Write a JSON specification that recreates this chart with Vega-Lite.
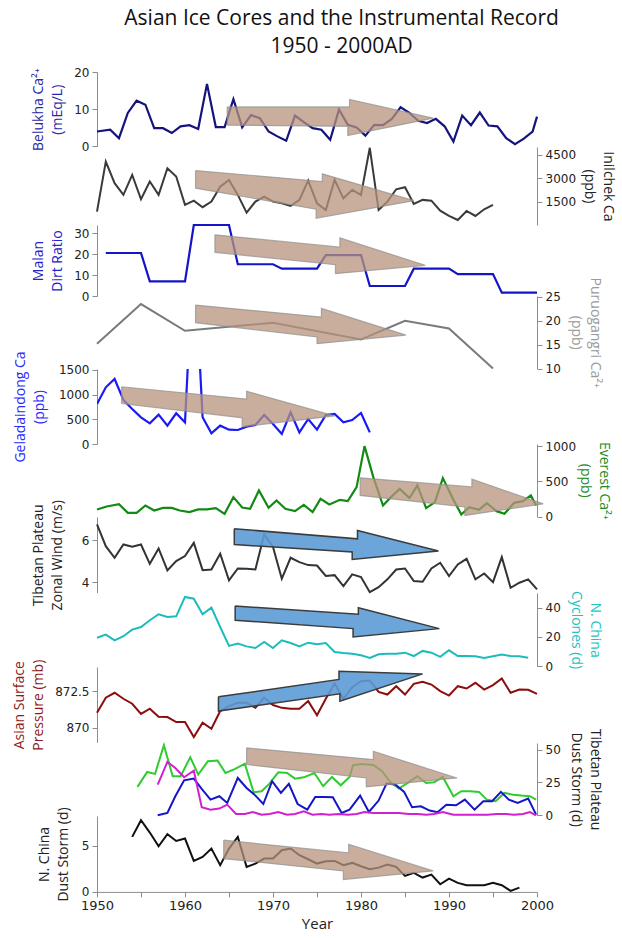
{
  "$schema": "https://vega.github.io/schema/vega-lite/v6.json",
  "padding": {"left": 12, "top": 8, "right": 4, "bottom": 5},
  "title": {"text": ["Asian Ice Cores and the Instrumental Record", "1950 - 2000AD"], "font": "Open Sans", "fontSize": 21, "fontWeight": "normal", "color": "#111111", "anchor": "middle", "offset": 9, "lineHeight": 28, "dx": 28},
  "spacing": 0,
  "bounds": "flush",
  "config": {
    "view": {"stroke": null},
    "axis": {"domainColor": "#8c8c8c", "tickColor": "#8c8c8c", "tickSize": 5, "labelColor": "#222222", "labelFont": "DejaVu Sans", "labelFontSize": 12, "labelPadding": 3, "titleFont": "Open Sans", "titleFontSize": 14, "titleLineHeight": 19, "titleFontWeight": "normal", "grid": false, "labelFlush": false, "labelOverlap": false}
  },
  "datasets": {
    "belukha": [
      {"year": 1950, "v": 4.0}, {"year": 1951.5, "v": 4.5}, {"year": 1952.5, "v": 2.2}, {"year": 1953.5, "v": 9.0}, {"year": 1954.5, "v": 12.3}, {"year": 1955.5, "v": 11.2}, {"year": 1956.5, "v": 4.9}, {"year": 1957.5, "v": 4.9}, {"year": 1958.5, "v": 3.6}, {"year": 1959.5, "v": 5.4}, {"year": 1960.5, "v": 5.7}, {"year": 1961.5, "v": 4.7}, {"year": 1962.5, "v": 16.8}, {"year": 1963.5, "v": 5.2}, {"year": 1964.5, "v": 5.2}, {"year": 1965.5, "v": 12.7}, {"year": 1966.5, "v": 5.1}, {"year": 1967.5, "v": 8.4}, {"year": 1968.5, "v": 7.6}, {"year": 1969.5, "v": 4.0}, {"year": 1970.5, "v": 2.7}, {"year": 1971.5, "v": 1.5}, {"year": 1972.5, "v": 8.3}, {"year": 1973.5, "v": 6.5}, {"year": 1974.5, "v": 4.9}, {"year": 1975.5, "v": 4.5}, {"year": 1976.5, "v": 1.8}, {"year": 1977.5, "v": 9.9}, {"year": 1978.5, "v": 5.8}, {"year": 1979.5, "v": 5.1}, {"year": 1980.5, "v": 2.9}, {"year": 1981.5, "v": 5.8}, {"year": 1982.5, "v": 5.7}, {"year": 1983.5, "v": 7.4}, {"year": 1984.5, "v": 10.5}, {"year": 1985.5, "v": 9.0}, {"year": 1986.5, "v": 6.9}, {"year": 1987.5, "v": 6.3}, {"year": 1988.5, "v": 7.4}, {"year": 1989.5, "v": 5.4}, {"year": 1990.5, "v": 1.3}, {"year": 1991.5, "v": 8.3}, {"year": 1992.5, "v": 5.7}, {"year": 1993.5, "v": 9.1}, {"year": 1994.5, "v": 5.6}, {"year": 1995.5, "v": 5.4}, {"year": 1996.5, "v": 2.2}, {"year": 1997.5, "v": 0.6}, {"year": 1998.5, "v": 2.1}, {"year": 1999.5, "v": 4.0}, {"year": 2000, "v": 8.0}
    ],
    "inilchek": [
      {"year": 1950, "v": 860}, {"year": 1951, "v": 4070}, {"year": 1952, "v": 2680}, {"year": 1953, "v": 1930}, {"year": 1954, "v": 3210}, {"year": 1955, "v": 1650}, {"year": 1956, "v": 2790}, {"year": 1957, "v": 1930}, {"year": 1958, "v": 3640}, {"year": 1959, "v": 3110}, {"year": 1960, "v": 1290}, {"year": 1961, "v": 1560}, {"year": 1962, "v": 1140}, {"year": 1963, "v": 1500}, {"year": 1964, "v": 2460}, {"year": 1965, "v": 2890}, {"year": 1966, "v": 1930}, {"year": 1967, "v": 790}, {"year": 1968, "v": 1500}, {"year": 1969, "v": 1820}, {"year": 1970, "v": 1500}, {"year": 1971, "v": 1390}, {"year": 1972, "v": 1220}, {"year": 1973, "v": 1610}, {"year": 1974, "v": 2850}, {"year": 1975, "v": 1390}, {"year": 1976, "v": 960}, {"year": 1977, "v": 2890}, {"year": 1978, "v": 1710}, {"year": 1979, "v": 2250}, {"year": 1980, "v": 1930}, {"year": 1981, "v": 4950}, {"year": 1982, "v": 960}, {"year": 1983, "v": 1500}, {"year": 1984, "v": 2290}, {"year": 1985, "v": 2420}, {"year": 1986, "v": 1350}, {"year": 1987, "v": 1610}, {"year": 1988, "v": 1560}, {"year": 1989, "v": 920}, {"year": 1990, "v": 580}, {"year": 1991, "v": 320}, {"year": 1992, "v": 900}, {"year": 1993, "v": 580}, {"year": 1994, "v": 1010}, {"year": 1995, "v": 1290}
    ],
    "malan": [
      {"year": 1951, "v": 20.6}, {"year": 1952, "v": 20.6}, {"year": 1953, "v": 20.6}, {"year": 1954, "v": 20.6}, {"year": 1955, "v": 20.6},
      {"year": 1956, "v": 7.0}, {"year": 1957, "v": 7.0}, {"year": 1958, "v": 7.0}, {"year": 1959, "v": 7.0}, {"year": 1960, "v": 7.0},
      {"year": 1961, "v": 34}, {"year": 1962, "v": 34}, {"year": 1963, "v": 34}, {"year": 1964, "v": 34}, {"year": 1965, "v": 34},
      {"year": 1966, "v": 15.2}, {"year": 1967, "v": 15.2}, {"year": 1968, "v": 15.2}, {"year": 1969, "v": 15.2}, {"year": 1970, "v": 15.2},
      {"year": 1971, "v": 13.1}, {"year": 1972, "v": 13.1}, {"year": 1973, "v": 13.1}, {"year": 1974, "v": 13.1}, {"year": 1975, "v": 13.1},
      {"year": 1976, "v": 19.6}, {"year": 1977, "v": 19.6}, {"year": 1978, "v": 19.6}, {"year": 1979, "v": 19.6}, {"year": 1980, "v": 19.6},
      {"year": 1981, "v": 4.8}, {"year": 1982, "v": 4.8}, {"year": 1983, "v": 4.8}, {"year": 1984, "v": 4.8}, {"year": 1985, "v": 4.8},
      {"year": 1986, "v": 13.1}, {"year": 1987, "v": 13.1}, {"year": 1988, "v": 13.1}, {"year": 1989, "v": 13.1}, {"year": 1990, "v": 13.1},
      {"year": 1991, "v": 10.5}, {"year": 1992, "v": 10.5}, {"year": 1993, "v": 10.5}, {"year": 1994, "v": 10.5}, {"year": 1995, "v": 10.5},
      {"year": 1996, "v": 1.6}, {"year": 1997, "v": 1.6}, {"year": 1998, "v": 1.6}, {"year": 1999, "v": 1.6}, {"year": 2000, "v": 1.6}
    ],
    "puru": [
      {"year": 1950, "v": 15.2}, {"year": 1955, "v": 23.5}, {"year": 1960, "v": 17.9}, {"year": 1970, "v": 19.6}, {"year": 1980, "v": 16.1}, {"year": 1985, "v": 20.0}, {"year": 1990, "v": 18.4}, {"year": 1995, "v": 10.0}
    ],
    "gela": [
      {"year": 1950, "v": 811}, {"year": 1951, "v": 1149}, {"year": 1952, "v": 1318}, {"year": 1953, "v": 892}, {"year": 1954, "v": 709}, {"year": 1955, "v": 541}, {"year": 1956, "v": 419}, {"year": 1957, "v": 595}, {"year": 1958, "v": 372}, {"year": 1959, "v": 622}, {"year": 1960, "v": 439}, {"year": 1961, "v": 4000}, {"year": 1962, "v": 541}, {"year": 1963, "v": 216}, {"year": 1964, "v": 372}, {"year": 1965, "v": 291}, {"year": 1966, "v": 284}, {"year": 1967, "v": 351}, {"year": 1968, "v": 385}, {"year": 1969, "v": 588}, {"year": 1970, "v": 405}, {"year": 1971, "v": 203}, {"year": 1972, "v": 642}, {"year": 1973, "v": 236}, {"year": 1974, "v": 507}, {"year": 1975, "v": 291}, {"year": 1976, "v": 588}, {"year": 1977, "v": 608}, {"year": 1978, "v": 439}, {"year": 1979, "v": 486}, {"year": 1980, "v": 628}, {"year": 1981, "v": 236}
    ],
    "everest": [
      {"year": 1950.0, "v": 100}, {"year": 1951.1, "v": 142}, {"year": 1952.5, "v": 175}, {"year": 1953.5, "v": 52}, {"year": 1954.5, "v": 52}, {"year": 1955.5, "v": 156}, {"year": 1956.5, "v": 85}, {"year": 1957.5, "v": 123}, {"year": 1958.5, "v": 123}, {"year": 1959.4, "v": 85}, {"year": 1960.5, "v": 62}, {"year": 1961.5, "v": 100}, {"year": 1962.5, "v": 100}, {"year": 1963.5, "v": 119}, {"year": 1964.5, "v": 38}, {"year": 1965.5, "v": 275}, {"year": 1966.5, "v": 128}, {"year": 1967.4, "v": 109}, {"year": 1968.4, "v": 370}, {"year": 1969.5, "v": 123}, {"year": 1970.4, "v": 228}, {"year": 1971.4, "v": 109}, {"year": 1972.5, "v": 76}, {"year": 1973.5, "v": 166}, {"year": 1974.5, "v": 62}, {"year": 1975.4, "v": 251}, {"year": 1976.4, "v": 171}, {"year": 1977.6, "v": 237}, {"year": 1978.5, "v": 218}, {"year": 1979.5, "v": 417}, {"year": 1980.4, "v": 1000}, {"year": 1981.4, "v": 559}, {"year": 1982.5, "v": 156}, {"year": 1983.4, "v": 275}, {"year": 1984.4, "v": 393}, {"year": 1985.5, "v": 261}, {"year": 1986.4, "v": 441}, {"year": 1987.4, "v": 119}, {"year": 1988.4, "v": 204}, {"year": 1989.3, "v": 545}, {"year": 1990.5, "v": 237}, {"year": 1991.4, "v": 28}, {"year": 1992.3, "v": 133}, {"year": 1993.4, "v": 95}, {"year": 1994.3, "v": 190}, {"year": 1995.4, "v": 76}, {"year": 1996.3, "v": 38}, {"year": 1997.4, "v": 194}, {"year": 1998.4, "v": 218}, {"year": 1999.3, "v": 299}, {"year": 1999.9, "v": 156}
    ],
    "wind": [
      {"year": 1950, "v": 6.75}, {"year": 1951, "v": 5.71}, {"year": 1952, "v": 5.16}, {"year": 1953, "v": 5.79}, {"year": 1954, "v": 5.68}, {"year": 1955, "v": 5.79}, {"year": 1956, "v": 4.87}, {"year": 1957, "v": 5.6}, {"year": 1958, "v": 4.56}, {"year": 1959, "v": 5.0}, {"year": 1960, "v": 5.24}, {"year": 1961, "v": 5.87}, {"year": 1962, "v": 4.57}, {"year": 1963, "v": 4.6}, {"year": 1964, "v": 5.35}, {"year": 1965, "v": 4.08}, {"year": 1966, "v": 4.65}, {"year": 1967, "v": 4.63}, {"year": 1968, "v": 4.6}, {"year": 1969, "v": 6.27}, {"year": 1970, "v": 5.67}, {"year": 1971, "v": 4.16}, {"year": 1972, "v": 5.16}, {"year": 1973, "v": 4.95}, {"year": 1974, "v": 4.81}, {"year": 1975, "v": 4.79}, {"year": 1976, "v": 4.29}, {"year": 1977, "v": 4.33}, {"year": 1978, "v": 3.81}, {"year": 1979, "v": 4.37}, {"year": 1980, "v": 4.24}, {"year": 1981, "v": 3.52}, {"year": 1982, "v": 3.76}, {"year": 1983, "v": 4.13}, {"year": 1984, "v": 4.6}, {"year": 1985, "v": 4.65}, {"year": 1986, "v": 4.05}, {"year": 1987, "v": 4.02}, {"year": 1988, "v": 4.65}, {"year": 1989, "v": 4.92}, {"year": 1990, "v": 4.29}, {"year": 1991, "v": 4.84}, {"year": 1992, "v": 5.11}, {"year": 1993, "v": 4.13}, {"year": 1994, "v": 4.41}, {"year": 1995, "v": 4.0}, {"year": 1996, "v": 5.19}, {"year": 1997, "v": 3.73}, {"year": 1998, "v": 3.97}, {"year": 1999, "v": 4.13}, {"year": 2000, "v": 3.65}
    ],
    "cyclones": [
      {"year": 1950, "v": 19.5}, {"year": 1951, "v": 21.6}, {"year": 1952, "v": 17.7}, {"year": 1953, "v": 20.5}, {"year": 1954, "v": 25.0}, {"year": 1955, "v": 26.8}, {"year": 1956, "v": 31.4}, {"year": 1957, "v": 35.5}, {"year": 1958, "v": 33.6}, {"year": 1959, "v": 34.1}, {"year": 1960, "v": 47.3}, {"year": 1961, "v": 46.1}, {"year": 1962, "v": 35.5}, {"year": 1963, "v": 40.0}, {"year": 1964, "v": 26.8}, {"year": 1965, "v": 13.9}, {"year": 1966, "v": 15.5}, {"year": 1967, "v": 13.6}, {"year": 1968, "v": 12.5}, {"year": 1969, "v": 16.6}, {"year": 1970, "v": 12.5}, {"year": 1971, "v": 17.7}, {"year": 1972, "v": 15.9}, {"year": 1973, "v": 13.6}, {"year": 1974, "v": 16.1}, {"year": 1975, "v": 15.0}, {"year": 1976, "v": 15.9}, {"year": 1977, "v": 9.8}, {"year": 1978, "v": 9.1}, {"year": 1979, "v": 8.6}, {"year": 1980, "v": 7.5}, {"year": 1981, "v": 5.7}, {"year": 1982, "v": 8.2}, {"year": 1983, "v": 8.6}, {"year": 1984, "v": 8.6}, {"year": 1985, "v": 9.3}, {"year": 1986, "v": 7.0}, {"year": 1987, "v": 10.5}, {"year": 1988, "v": 9.3}, {"year": 1989, "v": 6.4}, {"year": 1990, "v": 10.9}, {"year": 1991, "v": 7.0}, {"year": 1992, "v": 7.0}, {"year": 1993, "v": 6.8}, {"year": 1994, "v": 5.7}, {"year": 1995, "v": 6.8}, {"year": 1996, "v": 8.0}, {"year": 1997, "v": 7.0}, {"year": 1998, "v": 6.8}, {"year": 1999, "v": 5.9}
    ],
    "pressure": [
      {"year": 1950, "v": 871.02}, {"year": 1951, "v": 872.05}, {"year": 1952, "v": 872.39}, {"year": 1953, "v": 871.98}, {"year": 1954, "v": 871.64}, {"year": 1955, "v": 870.95}, {"year": 1956, "v": 871.3}, {"year": 1957, "v": 870.75}, {"year": 1958, "v": 870.73}, {"year": 1959, "v": 870.39}, {"year": 1960, "v": 870.39}, {"year": 1961, "v": 869.36}, {"year": 1962, "v": 870.34}, {"year": 1963, "v": 869.93}, {"year": 1964, "v": 871.14}, {"year": 1965, "v": 871.48}, {"year": 1966, "v": 871.7}, {"year": 1967, "v": 871.7}, {"year": 1968, "v": 871.36}, {"year": 1969, "v": 872.05}, {"year": 1970, "v": 871.55}, {"year": 1971, "v": 871.36}, {"year": 1972, "v": 871.3}, {"year": 1973, "v": 871.3}, {"year": 1974, "v": 871.82}, {"year": 1975, "v": 870.86}, {"year": 1976, "v": 871.98}, {"year": 1977, "v": 873.02}, {"year": 1978, "v": 871.98}, {"year": 1979, "v": 872.77}, {"year": 1980, "v": 873.18}, {"year": 1981, "v": 873.23}, {"year": 1982, "v": 872.45}, {"year": 1983, "v": 872.27}, {"year": 1984, "v": 872.84}, {"year": 1985, "v": 872.27}, {"year": 1986, "v": 873.0}, {"year": 1987, "v": 873.14}, {"year": 1988, "v": 872.95}, {"year": 1989, "v": 872.5}, {"year": 1990, "v": 872.2}, {"year": 1991, "v": 872.84}, {"year": 1992, "v": 872.68}, {"year": 1993, "v": 873.07}, {"year": 1994, "v": 872.61}, {"year": 1995, "v": 872.91}, {"year": 1996, "v": 873.36}, {"year": 1997, "v": 872.39}, {"year": 1998, "v": 872.61}, {"year": 1999, "v": 872.59}, {"year": 2000, "v": 872.32}
    ],
    "tibet": [
      {"s": "s1", "year": 1954.6, "v": 21.6}, {"s": "s1", "year": 1955.7, "v": 33.0}, {"s": "s1", "year": 1956.6, "v": 31.5}, {"s": "s1", "year": 1957.6, "v": 53.3}, {"s": "s1", "year": 1958.6, "v": 29.7}, {"s": "s1", "year": 1959.5, "v": 29.7}, {"s": "s1", "year": 1960.6, "v": 44.2}, {"s": "s1", "year": 1961.5, "v": 31.0}, {"s": "s1", "year": 1962.6, "v": 41.1}, {"s": "s1", "year": 1963.7, "v": 41.6}, {"s": "s1", "year": 1964.6, "v": 32.2}, {"s": "s1", "year": 1965.7, "v": 35.3}, {"s": "s1", "year": 1966.8, "v": 39.3}, {"s": "s1", "year": 1967.8, "v": 17.5}, {"s": "s1", "year": 1968.7, "v": 18.3}, {"s": "s1", "year": 1969.6, "v": 24.1}, {"s": "s1", "year": 1970.6, "v": 32.7}, {"s": "s1", "year": 1971.6, "v": 32.2}, {"s": "s1", "year": 1972.5, "v": 27.9}, {"s": "s1", "year": 1973.5, "v": 28.9}, {"s": "s1", "year": 1974.7, "v": 32.2}, {"s": "s1", "year": 1975.7, "v": 22.1}, {"s": "s1", "year": 1976.7, "v": 29.2}, {"s": "s1", "year": 1977.7, "v": 22.8}, {"s": "s1", "year": 1978.7, "v": 29.2}, {"s": "s1", "year": 1979.1, "v": 38.1}, {"s": "s1", "year": 1980.1, "v": 39.1}, {"s": "s1", "year": 1981.4, "v": 38.3}, {"s": "s1", "year": 1982.4, "v": 33.5}, {"s": "s1", "year": 1983.3, "v": 25.4}, {"s": "s1", "year": 1984.3, "v": 20.3}, {"s": "s1", "year": 1985.4, "v": 25.1}, {"s": "s1", "year": 1986.4, "v": 29.7}, {"s": "s1", "year": 1987.4, "v": 24.6}, {"s": "s1", "year": 1988.3, "v": 25.1}, {"s": "s1", "year": 1989.3, "v": 29.2}, {"s": "s1", "year": 1990.5, "v": 14.5}, {"s": "s1", "year": 1991.4, "v": 18.3}, {"s": "s1", "year": 1992.4, "v": 18.3}, {"s": "s1", "year": 1993.4, "v": 17.8}, {"s": "s1", "year": 1994.3, "v": 11.9}, {"s": "s1", "year": 1995.3, "v": 10.7}, {"s": "s1", "year": 1996.3, "v": 17.0}, {"s": "s1", "year": 1997.3, "v": 15.7}, {"s": "s1", "year": 1998.2, "v": 15.0}, {"s": "s1", "year": 1999.2, "v": 14.5}, {"s": "s1", "year": 1999.9, "v": 11.9},
      {"s": "s2", "year": 1956.9, "v": 0}, {"s": "s2", "year": 1958.0, "v": 1.8}, {"s": "s2", "year": 1958.9, "v": 14.5}, {"s": "s2", "year": 1959.9, "v": 26.6}, {"s": "s2", "year": 1961.0, "v": 27.9}, {"s": "s2", "year": 1961.9, "v": 20.1}, {"s": "s2", "year": 1962.9, "v": 11.9}, {"s": "s2", "year": 1963.9, "v": 14.5}, {"s": "s2", "year": 1964.8, "v": 9.4}, {"s": "s2", "year": 1966.0, "v": 28.4}, {"s": "s2", "year": 1967.0, "v": 20.8}, {"s": "s2", "year": 1967.9, "v": 15.7}, {"s": "s2", "year": 1968.9, "v": 8.6}, {"s": "s2", "year": 1969.9, "v": 25.9}, {"s": "s2", "year": 1970.9, "v": 17.0}, {"s": "s2", "year": 1971.8, "v": 23.9}, {"s": "s2", "year": 1972.8, "v": 8.6}, {"s": "s2", "year": 1973.9, "v": 4.3}, {"s": "s2", "year": 1974.8, "v": 14.0}, {"s": "s2", "year": 1975.8, "v": 14.0}, {"s": "s2", "year": 1976.8, "v": 13.7}, {"s": "s2", "year": 1977.8, "v": 1.8}, {"s": "s2", "year": 1978.7, "v": 4.3}, {"s": "s2", "year": 1979.9, "v": 15.0}, {"s": "s2", "year": 1980.9, "v": 2.5}, {"s": "s2", "year": 1982.0, "v": 11.2}, {"s": "s2", "year": 1982.9, "v": 24.1}, {"s": "s2", "year": 1983.9, "v": 23.4}, {"s": "s2", "year": 1984.9, "v": 17.8}, {"s": "s2", "year": 1985.8, "v": 6.1}, {"s": "s2", "year": 1986.8, "v": 6.9}, {"s": "s2", "year": 1987.8, "v": 3.6}, {"s": "s2", "year": 1988.7, "v": 2.3}, {"s": "s2", "year": 1989.7, "v": 8.1}, {"s": "s2", "year": 1990.8, "v": 7.6}, {"s": "s2", "year": 1991.8, "v": 11.9}, {"s": "s2", "year": 1992.9, "v": 4.3}, {"s": "s2", "year": 1993.9, "v": 10.7}, {"s": "s2", "year": 1994.9, "v": 10.7}, {"s": "s2", "year": 1995.9, "v": 17.8}, {"s": "s2", "year": 1996.8, "v": 11.9}, {"s": "s2", "year": 1997.8, "v": 9.4}, {"s": "s2", "year": 1999.0, "v": 12.7}, {"s": "s2", "year": 1999.9, "v": 0.5},
      {"s": "s3", "year": 1956.9, "v": 23.4}, {"s": "s3", "year": 1958.0, "v": 40.6}, {"s": "s3", "year": 1958.9, "v": 36.0}, {"s": "s3", "year": 1959.9, "v": 28.9}, {"s": "s3", "year": 1961.0, "v": 34.0}, {"s": "s3", "year": 1961.9, "v": 6.1}, {"s": "s3", "year": 1962.9, "v": 4.3}, {"s": "s3", "year": 1963.9, "v": 5.1}, {"s": "s3", "year": 1964.8, "v": 8.1}, {"s": "s3", "year": 1965.8, "v": 1.0}, {"s": "s3", "year": 1966.8, "v": 1.0}, {"s": "s3", "year": 1967.7, "v": 2.5}, {"s": "s3", "year": 1968.7, "v": 0.5}, {"s": "s3", "year": 1969.6, "v": 1.0}, {"s": "s3", "year": 1970.6, "v": 2.5}, {"s": "s3", "year": 1971.6, "v": 0.5}, {"s": "s3", "year": 1972.5, "v": 1.0}, {"s": "s3", "year": 1973.5, "v": 3.0}, {"s": "s3", "year": 1974.5, "v": 0.5}, {"s": "s3", "year": 1975.5, "v": 1.0}, {"s": "s3", "year": 1976.4, "v": 0.5}, {"s": "s3", "year": 1977.5, "v": 1.0}, {"s": "s3", "year": 1978.5, "v": 0.5}, {"s": "s3", "year": 1979.5, "v": 1.0}, {"s": "s3", "year": 1980.4, "v": 2.5}, {"s": "s3", "year": 1981.4, "v": 1.8}, {"s": "s3", "year": 1982.4, "v": 1.8}, {"s": "s3", "year": 1983.4, "v": 1.8}, {"s": "s3", "year": 1984.3, "v": 1.8}, {"s": "s3", "year": 1985.4, "v": 1.0}, {"s": "s3", "year": 1986.4, "v": 1.0}, {"s": "s3", "year": 1987.4, "v": 0.5}, {"s": "s3", "year": 1988.3, "v": 1.0}, {"s": "s3", "year": 1989.3, "v": 2.5}, {"s": "s3", "year": 1990.5, "v": 0.5}, {"s": "s3", "year": 1991.4, "v": 0.5}, {"s": "s3", "year": 1992.4, "v": 0.5}, {"s": "s3", "year": 1993.4, "v": 0.5}, {"s": "s3", "year": 1994.4, "v": 0.5}, {"s": "s3", "year": 1995.4, "v": 1.0}, {"s": "s3", "year": 1996.4, "v": 1.0}, {"s": "s3", "year": 1997.4, "v": 0.5}, {"s": "s3", "year": 1998.4, "v": 1.0}, {"s": "s3", "year": 1999.2, "v": 2.5}, {"s": "s3", "year": 1999.9, "v": 0}
    ],
    "nchina": [
      {"year": 1954, "v": 5.98}, {"year": 1955, "v": 7.79}, {"year": 1956, "v": 6.45}, {"year": 1957, "v": 4.96}, {"year": 1958, "v": 6.27}, {"year": 1959, "v": 5.54}, {"year": 1960, "v": 5.8}, {"year": 1961, "v": 3.37}, {"year": 1962, "v": 3.8}, {"year": 1963, "v": 4.71}, {"year": 1964, "v": 2.9}, {"year": 1965, "v": 4.71}, {"year": 1966, "v": 5.98}, {"year": 1967, "v": 2.72}, {"year": 1968, "v": 3.08}, {"year": 1969, "v": 3.62}, {"year": 1970, "v": 3.62}, {"year": 1971, "v": 4.53}, {"year": 1972, "v": 4.71}, {"year": 1973, "v": 3.99}, {"year": 1974, "v": 3.55}, {"year": 1975, "v": 3.08}, {"year": 1976, "v": 3.33}, {"year": 1977, "v": 3.37}, {"year": 1978, "v": 2.9}, {"year": 1979, "v": 3.15}, {"year": 1980, "v": 2.79}, {"year": 1981, "v": 2.46}, {"year": 1982, "v": 2.64}, {"year": 1983, "v": 2.97}, {"year": 1984, "v": 2.72}, {"year": 1985, "v": 1.74}, {"year": 1986, "v": 2.07}, {"year": 1987, "v": 1.56}, {"year": 1988, "v": 1.88}, {"year": 1989, "v": 0.83}, {"year": 1990, "v": 1.45}, {"year": 1991, "v": 0.98}, {"year": 1992, "v": 0.72}, {"year": 1993, "v": 0.72}, {"year": 1994, "v": 0.72}, {"year": 1995, "v": 0.98}, {"year": 1996, "v": 0.72}, {"year": 1997, "v": 0.11}, {"year": 1998, "v": 0.47}
    ],
    "arrows": [
      {"p": "belukha", "i": 1, "year": 1964.8, "v": 10.6}, {"p": "belukha", "i": 2, "year": 1978.7, "v": 10.6}, {"p": "belukha", "i": 3, "year": 1978.7, "v": 12.6}, {"p": "belukha", "i": 4, "year": 1988.2, "v": 7.6}, {"p": "belukha", "i": 5, "year": 1978.5, "v": 2.9}, {"p": "belukha", "i": 6, "year": 1978.5, "v": 5.4}, {"p": "belukha", "i": 7, "year": 1964.8, "v": 5.7}, {"p": "belukha", "i": 8, "year": 1964.8, "v": 10.6},
      {"p": "inilchek", "i": 1, "year": 1961.2, "v": 3490}, {"p": "inilchek", "i": 2, "year": 1975.6, "v": 2790}, {"p": "inilchek", "i": 3, "year": 1975.6, "v": 3280}, {"p": "inilchek", "i": 4, "year": 1986.0, "v": 1560}, {"p": "inilchek", "i": 5, "year": 1974.9, "v": 430}, {"p": "inilchek", "i": 6, "year": 1974.9, "v": 1010}, {"p": "inilchek", "i": 7, "year": 1961.2, "v": 2360}, {"p": "inilchek", "i": 8, "year": 1961.2, "v": 3490},
      {"p": "malan", "i": 1, "year": 1963.4, "v": 29.3}, {"p": "malan", "i": 2, "year": 1977.6, "v": 23.4}, {"p": "malan", "i": 3, "year": 1977.6, "v": 27.8}, {"p": "malan", "i": 4, "year": 1987.3, "v": 14.7}, {"p": "malan", "i": 5, "year": 1977.1, "v": 10.7}, {"p": "malan", "i": 6, "year": 1977.1, "v": 15.0}, {"p": "malan", "i": 7, "year": 1963.4, "v": 20.9}, {"p": "malan", "i": 8, "year": 1963.4, "v": 29.3},
      {"p": "puru", "i": 1, "year": 1961.2, "v": 23.3}, {"p": "puru", "i": 2, "year": 1975.5, "v": 20.8}, {"p": "puru", "i": 3, "year": 1975.5, "v": 22.6}, {"p": "puru", "i": 4, "year": 1985.1, "v": 17.0}, {"p": "puru", "i": 5, "year": 1975.0, "v": 15.2}, {"p": "puru", "i": 6, "year": 1975.0, "v": 16.6}, {"p": "puru", "i": 7, "year": 1961.2, "v": 19.6}, {"p": "puru", "i": 8, "year": 1961.2, "v": 23.3},
      {"p": "gela", "i": 1, "year": 1952.8, "v": 1160}, {"p": "gela", "i": 2, "year": 1967.0, "v": 910}, {"p": "gela", "i": 3, "year": 1967.0, "v": 1070}, {"p": "gela", "i": 4, "year": 1977.0, "v": 570}, {"p": "gela", "i": 5, "year": 1966.5, "v": 350}, {"p": "gela", "i": 6, "year": 1966.5, "v": 530}, {"p": "gela", "i": 7, "year": 1952.8, "v": 820}, {"p": "gela", "i": 8, "year": 1952.8, "v": 1160},
      {"p": "everest", "i": 1, "year": 1979.9, "v": 550}, {"p": "everest", "i": 2, "year": 1992.6, "v": 420}, {"p": "everest", "i": 3, "year": 1992.6, "v": 530}, {"p": "everest", "i": 4, "year": 2000.7, "v": 180}, {"p": "everest", "i": 5, "year": 1991.8, "v": 15}, {"p": "everest", "i": 6, "year": 1991.8, "v": 135}, {"p": "everest", "i": 7, "year": 1979.9, "v": 300}, {"p": "everest", "i": 8, "year": 1979.9, "v": 550},
      {"p": "wind", "i": 1, "year": 1965.6, "v": 6.54}, {"p": "wind", "i": 2, "year": 1979.6, "v": 6.06}, {"p": "wind", "i": 3, "year": 1979.6, "v": 6.46}, {"p": "wind", "i": 4, "year": 1988.8, "v": 5.48}, {"p": "wind", "i": 5, "year": 1979.0, "v": 5.08}, {"p": "wind", "i": 6, "year": 1979.0, "v": 5.43}, {"p": "wind", "i": 7, "year": 1965.6, "v": 5.79}, {"p": "wind", "i": 8, "year": 1965.6, "v": 6.54},
      {"p": "cyclones", "i": 1, "year": 1965.7, "v": 41.1}, {"p": "cyclones", "i": 2, "year": 1979.7, "v": 35.5}, {"p": "cyclones", "i": 3, "year": 1979.7, "v": 40.0}, {"p": "cyclones", "i": 4, "year": 1988.9, "v": 25.7}, {"p": "cyclones", "i": 5, "year": 1979.1, "v": 20.0}, {"p": "cyclones", "i": 6, "year": 1979.1, "v": 25.7}, {"p": "cyclones", "i": 7, "year": 1965.7, "v": 31.4}, {"p": "cyclones", "i": 8, "year": 1965.7, "v": 41.1},
      {"p": "pressure", "i": 1, "year": 1963.8, "v": 872.11}, {"p": "pressure", "i": 2, "year": 1977.5, "v": 873.3}, {"p": "pressure", "i": 3, "year": 1977.5, "v": 873.86}, {"p": "pressure", "i": 4, "year": 1987.0, "v": 873.68}, {"p": "pressure", "i": 5, "year": 1977.6, "v": 871.82}, {"p": "pressure", "i": 6, "year": 1977.6, "v": 872.32}, {"p": "pressure", "i": 7, "year": 1963.8, "v": 871.14}, {"p": "pressure", "i": 8, "year": 1963.8, "v": 872.11},
      {"p": "tibet", "i": 1, "year": 1967.0, "v": 51.3}, {"p": "tibet", "i": 2, "year": 1981.4, "v": 42.4}, {"p": "tibet", "i": 3, "year": 1981.4, "v": 48.7}, {"p": "tibet", "i": 4, "year": 1990.9, "v": 28.4}, {"p": "tibet", "i": 5, "year": 1980.6, "v": 21.6}, {"p": "tibet", "i": 6, "year": 1980.6, "v": 28.4}, {"p": "tibet", "i": 7, "year": 1967.0, "v": 38.6}, {"p": "tibet", "i": 8, "year": 1967.0, "v": 51.3},
      {"p": "nchina", "i": 1, "year": 1964.4, "v": 5.62}, {"p": "nchina", "i": 2, "year": 1978.6, "v": 4.24}, {"p": "nchina", "i": 3, "year": 1978.6, "v": 5.18}, {"p": "nchina", "i": 4, "year": 1988.2, "v": 2.28}, {"p": "nchina", "i": 5, "year": 1978.0, "v": 1.34}, {"p": "nchina", "i": 6, "year": 1978.0, "v": 2.28}, {"p": "nchina", "i": 7, "year": 1964.4, "v": 3.62}, {"p": "nchina", "i": 8, "year": 1964.4, "v": 5.62}
    ]
  },
  "vconcat": [
    {
      "width": 440, "height": 74.4,
      "encoding": {
        "x": {"field": "year", "type": "quantitative", "scale": {"domain": [1950, 2000], "nice": false, "zero": false}, "axis": null},
        "y": {"field": "v", "type": "quantitative", "scale": {"domain": [0, 20], "nice": false, "zero": false}, "axis": {"orient": "left", "values": [0, 10, 20], "title": ["Belukha Ca²⁺", "(mEq/L)"], "titleColor": "#2a2aa8", "titlePadding": 9}}
      },
      "layer": [
        {"data": {"name": "belukha"}, "mark": {"type": "line", "color": "#14147c", "strokeWidth": 2.2}},
        {"data": {"name": "arrows"}, "transform": [{"filter": "datum.p == 'belukha'"}], "mark": {"type": "line", "fill": "#b8937c", "fillOpacity": 0.75, "stroke": "#8f8f8f", "strokeWidth": 1.2, "strokeOpacity": 0.7}, "encoding": {"order": {"field": "i", "type": "quantitative"}}}
      ]
    },
    {
      "width": 440, "height": 78,
      "encoding": {
        "x": {"field": "year", "type": "quantitative", "scale": {"domain": [1950, 2000], "nice": false, "zero": false}, "axis": null},
        "y": {"field": "v", "type": "quantitative", "scale": {"domain": [0, 5000], "nice": false, "zero": false}, "axis": {"orient": "right", "values": [1500, 3000, 4500], "format": "d", "title": ["Inilchek Ca", "(ppb)"], "titleColor": "#222222", "titlePadding": 6}}
      },
      "layer": [
        {"data": {"name": "inilchek"}, "mark": {"type": "line", "color": "#3a3a3a", "strokeWidth": 2}},
        {"data": {"name": "arrows"}, "transform": [{"filter": "datum.p == 'inilchek'"}], "mark": {"type": "line", "fill": "#b8937c", "fillOpacity": 0.75, "stroke": "#8f8f8f", "strokeWidth": 1.2, "strokeOpacity": 0.7}, "encoding": {"order": {"field": "i", "type": "quantitative"}}}
      ]
    },
    {
      "width": 440, "height": 71,
      "encoding": {
        "x": {"field": "year", "type": "quantitative", "scale": {"domain": [1950, 2000], "nice": false, "zero": false}, "axis": null},
        "y": {"field": "v", "type": "quantitative", "scale": {"domain": [0, 34], "nice": false, "zero": false}, "axis": {"orient": "left", "values": [0, 10, 20, 30], "title": ["Malan", "Dirt Ratio"], "titleColor": "#2222cc", "titlePadding": 9}}
      },
      "layer": [
        {"data": {"name": "malan"}, "mark": {"type": "line", "color": "#1414c8", "strokeWidth": 2.2}},
        {"data": {"name": "arrows"}, "transform": [{"filter": "datum.p == 'malan'"}], "mark": {"type": "line", "fill": "#b8937c", "fillOpacity": 0.75, "stroke": "#8f8f8f", "strokeWidth": 1.2, "strokeOpacity": 0.7}, "encoding": {"order": {"field": "i", "type": "quantitative"}}}
      ]
    },
    {
      "width": 440, "height": 72.5,
      "encoding": {
        "x": {"field": "year", "type": "quantitative", "scale": {"domain": [1950, 2000], "nice": false, "zero": false}, "axis": null},
        "y": {"field": "v", "type": "quantitative", "scale": {"domain": [10, 25.2], "nice": false, "zero": false}, "axis": {"orient": "right", "values": [10, 15, 20, 25], "title": ["Puruogangri Ca²⁺", "(ppb)"], "titleColor": "#9a9a9a", "titlePadding": 8}}
      },
      "layer": [
        {"data": {"name": "puru"}, "mark": {"type": "line", "color": "#7a7a7a", "strokeWidth": 2}},
        {"data": {"name": "arrows"}, "transform": [{"filter": "datum.p == 'puru'"}], "mark": {"type": "line", "fill": "#b8937c", "fillOpacity": 0.75, "stroke": "#8f8f8f", "strokeWidth": 1.2, "strokeOpacity": 0.7}, "encoding": {"order": {"field": "i", "type": "quantitative"}}}
      ]
    },
    {
      "width": 440, "height": 75,
      "encoding": {
        "x": {"field": "year", "type": "quantitative", "scale": {"domain": [1950, 2000], "nice": false, "zero": false}, "axis": null},
        "y": {"field": "v", "type": "quantitative", "scale": {"domain": [0, 1520], "nice": false, "zero": false}, "axis": {"orient": "left", "values": [0, 500, 1000, 1500], "format": "d", "title": ["Geladaindong Ca", "(ppb)"], "titleColor": "#2a2aff", "titlePadding": 12}}
      },
      "layer": [
        {"data": {"name": "gela"}, "mark": {"type": "line", "color": "#1a1af5", "strokeWidth": 2.2, "clip": true}},
        {"data": {"name": "arrows"}, "transform": [{"filter": "datum.p == 'gela'"}], "mark": {"type": "line", "fill": "#b8937c", "fillOpacity": 0.75, "stroke": "#8f8f8f", "strokeWidth": 1.2, "strokeOpacity": 0.7}, "encoding": {"order": {"field": "i", "type": "quantitative"}}}
      ]
    },
    {
      "width": 440, "height": 72.5,
      "encoding": {
        "x": {"field": "year", "type": "quantitative", "scale": {"domain": [1950, 2000], "nice": false, "zero": false}, "axis": null},
        "y": {"field": "v", "type": "quantitative", "scale": {"domain": [0, 1030], "nice": false, "zero": false}, "axis": {"orient": "right", "values": [0, 500, 1000], "format": "d", "title": ["Everest Ca²⁺", "(ppb)"], "titleColor": "#1e8c1e", "titlePadding": 2}}
      },
      "layer": [
        {"data": {"name": "everest"}, "mark": {"type": "line", "color": "#138a13", "strokeWidth": 2.2}},
        {"data": {"name": "arrows"}, "transform": [{"filter": "datum.p == 'everest'"}], "mark": {"type": "line", "fill": "#b8937c", "fillOpacity": 0.75, "stroke": "#8f8f8f", "strokeWidth": 1.2, "strokeOpacity": 0.7}, "encoding": {"order": {"field": "i", "type": "quantitative"}}}
      ]
    },
    {
      "width": 440, "height": 75.6,
      "encoding": {
        "x": {"field": "year", "type": "quantitative", "scale": {"domain": [1950, 2000], "nice": false, "zero": false}, "axis": null},
        "y": {"field": "v", "type": "quantitative", "scale": {"domain": [3.5, 7.1], "nice": false, "zero": false}, "axis": {"orient": "left", "values": [4, 6], "title": ["Tibetan Plateau", "Zonal Wind (m/s)"], "titleColor": "#222222", "titlePadding": 17}}
      },
      "layer": [
        {"data": {"name": "wind"}, "mark": {"type": "line", "color": "#333333", "strokeWidth": 2}},
        {"data": {"name": "arrows"}, "transform": [{"filter": "datum.p == 'wind'"}], "mark": {"type": "line", "fill": "#5b9bd5", "fillOpacity": 0.9, "stroke": "#3c3c3c", "strokeWidth": 1.5}, "encoding": {"order": {"field": "i", "type": "quantitative"}}}
      ]
    },
    {
      "width": 440, "height": 73.3,
      "encoding": {
        "x": {"field": "year", "type": "quantitative", "scale": {"domain": [1950, 2000], "nice": false, "zero": false}, "axis": null},
        "y": {"field": "v", "type": "quantitative", "scale": {"domain": [0, 50], "nice": false, "zero": false}, "axis": {"orient": "right", "values": [0, 20, 40], "title": ["N. China", "Cyclones (d)"], "titleColor": "#1fc2c2", "titlePadding": 8}}
      },
      "layer": [
        {"data": {"name": "cyclones"}, "mark": {"type": "line", "color": "#1cbcbc", "strokeWidth": 2}},
        {"data": {"name": "arrows"}, "transform": [{"filter": "datum.p == 'cyclones'"}], "mark": {"type": "line", "fill": "#5b9bd5", "fillOpacity": 0.9, "stroke": "#3c3c3c", "strokeWidth": 1.5}, "encoding": {"order": {"field": "i", "type": "quantitative"}}}
      ]
    },
    {
      "width": 440, "height": 75.4,
      "encoding": {
        "x": {"field": "year", "type": "quantitative", "scale": {"domain": [1950, 2000], "nice": false, "zero": false}, "axis": null},
        "y": {"field": "v", "type": "quantitative", "scale": {"domain": [869, 874.15], "nice": false, "zero": false}, "axis": {"orient": "left", "values": [870, 872.5], "format": ".1~f", "title": ["Asian Surface", "Pressure (mb)"], "titleColor": "#8e1a1a", "titlePadding": 9}}
      },
      "layer": [
        {"data": {"name": "pressure"}, "mark": {"type": "line", "color": "#8b0d0d", "strokeWidth": 2}},
        {"data": {"name": "arrows"}, "transform": [{"filter": "datum.p == 'pressure'"}], "mark": {"type": "line", "fill": "#5b9bd5", "fillOpacity": 0.9, "stroke": "#3c3c3c", "strokeWidth": 1.5}, "encoding": {"order": {"field": "i", "type": "quantitative"}}}
      ]
    },
    {
      "width": 440, "height": 72.3,
      "encoding": {
        "x": {"field": "year", "type": "quantitative", "scale": {"domain": [1950, 2000], "nice": false, "zero": false}, "axis": null},
        "y": {"field": "v", "type": "quantitative", "scale": {"domain": [0, 55], "nice": false, "zero": false}, "axis": {"orient": "right", "values": [0, 25, 50], "title": ["Tibetan Plateau", "Dust Storm (d)"], "titleColor": "#222222", "titlePadding": 8}}
      },
      "layer": [
        {"data": {"name": "tibet"}, "mark": {"type": "line", "strokeWidth": 2}, "encoding": {"color": {"field": "s", "type": "nominal", "scale": {"domain": ["s1", "s2", "s3"], "range": ["#2ecc2e", "#1515c8", "#d020d0"]}, "legend": null}}},
        {"data": {"name": "arrows"}, "transform": [{"filter": "datum.p == 'tibet'"}], "mark": {"type": "line", "fill": "#b8937c", "fillOpacity": 0.75, "stroke": "#8f8f8f", "strokeWidth": 1.2, "strokeOpacity": 0.7}, "encoding": {"order": {"field": "i", "type": "quantitative"}}}
      ]
    },
    {
      "width": 440, "height": 75.9,
      "encoding": {
        "x": {"field": "year", "type": "quantitative", "scale": {"domain": [1950, 2000], "nice": false, "zero": false}, "axis": {"orient": "bottom", "values": [1950, 1955, 1960, 1965, 1970, 1975, 1980, 1985, 1990, 1995, 2000], "format": "d", "labelExpr": "datum.value % 10 === 0 ? datum.label : ''", "labelFontSize": 13, "title": "Year", "titleFontSize": 15, "titleColor": "#222222", "titlePadding": 4}},
        "y": {"field": "v", "type": "quantitative", "scale": {"domain": [0, 8.25], "nice": false, "zero": false}, "axis": {"orient": "left", "values": [0, 5], "title": ["N. China", "Dust Storm (d)"], "titleColor": "#222222", "titlePadding": 11}}
      },
      "layer": [
        {"data": {"name": "nchina"}, "mark": {"type": "line", "color": "#111111", "strokeWidth": 2}},
        {"data": {"name": "arrows"}, "transform": [{"filter": "datum.p == 'nchina'"}], "mark": {"type": "line", "fill": "#b8937c", "fillOpacity": 0.75, "stroke": "#8f8f8f", "strokeWidth": 1.2, "strokeOpacity": 0.7}, "encoding": {"order": {"field": "i", "type": "quantitative"}}}
      ]
    }
  ]
}
